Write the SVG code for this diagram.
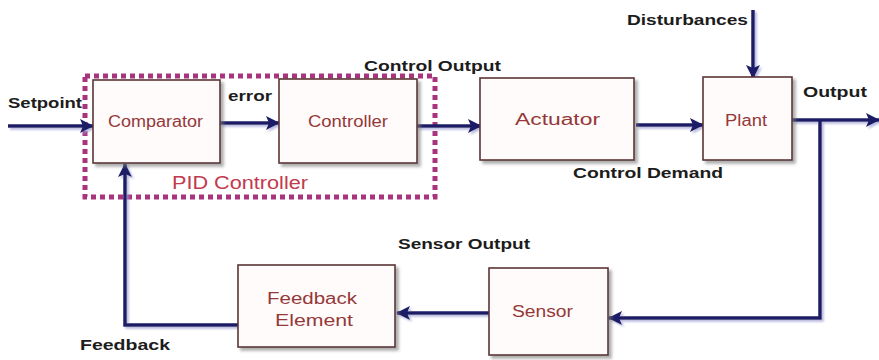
<svg xmlns="http://www.w3.org/2000/svg" width="879" height="360" viewBox="0 0 879 360">
<style>
.box{fill:#fffbfb;stroke:#5a3535;stroke-width:1.6;filter:url(#sh)}
.nt{font-family:"Liberation Sans",Arial,sans-serif;font-size:16px;fill:#953838;text-anchor:start}
.lb{font-family:"Liberation Sans",Arial,sans-serif;font-size:15px;font-weight:bold;fill:#1c1c1c}
.cn{fill:none;stroke:#1a1a66;stroke-width:3.5}
</style>
<defs>
<filter id="sh" x="-10%" y="-10%" width="130%" height="130%">
<feDropShadow dx="3" dy="3" stdDeviation="1.5" flood-color="#777" flood-opacity="0.6"/>
</filter>
<filter id="lsh" x="-5%" y="-5%" width="110%" height="110%">
<feDropShadow dx="2" dy="2" stdDeviation="1.2" flood-color="#9a9ad0" flood-opacity="0.7"/>
</filter>
<marker id="ah" markerUnits="userSpaceOnUse" markerWidth="14" markerHeight="14" refX="13" refY="7" orient="auto">
<path d="M0,0 L14,7 L0,14 L3,7 Z" fill="#1a1a66"/>
</marker>
</defs>
<rect width="879" height="360" fill="#ffffff"/>

<g id="pid-controller">
<rect x="85" y="76" width="350" height="121" fill="none" stroke="#a8347e" stroke-width="5" stroke-dasharray="5 4"/>
<text x="172" y="189" font-family="Liberation Sans,Arial,sans-serif" font-size="18" fill="#c23a4e" textLength="136" lengthAdjust="spacingAndGlyphs">PID Controller</text>
</g>

<g id="connectors" filter="url(#lsh)">
<line class="cn" x1="8" y1="126" x2="93" y2="126" marker-end="url(#ah)"/>
<line class="cn" x1="220" y1="123" x2="279" y2="123" marker-end="url(#ah)"/>
<line class="cn" x1="417" y1="126" x2="481" y2="126" marker-end="url(#ah)"/>
<line class="cn" x1="636" y1="125" x2="703" y2="125" marker-end="url(#ah)"/>
<line class="cn" x1="753" y1="10" x2="753" y2="78" marker-end="url(#ah)"/>
<line class="cn" x1="792" y1="120" x2="879" y2="120" marker-end="url(#ah)"/>
<polyline class="cn" points="820,120 820,318 609,318" marker-end="url(#ah)"/>
<line class="cn" x1="489" y1="313" x2="397" y2="313" marker-end="url(#ah)"/>
<polyline class="cn" points="238,325 125,325 125,164" marker-end="url(#ah)"/>
</g>

<g id="comparator">
<rect class="box" x="93" y="80" width="127" height="83"/>
<text class="nt" x="108" y="127" textLength="95" lengthAdjust="spacingAndGlyphs">Comparator</text>
</g>
<g id="controller">
<rect class="box" x="279" y="79" width="138" height="84"/>
<text class="nt" x="308" y="127" textLength="80" lengthAdjust="spacingAndGlyphs">Controller</text>
</g>
<g id="actuator">
<rect class="box" x="480" y="78" width="154" height="82"/>
<text class="nt" x="515" y="125" textLength="85" lengthAdjust="spacingAndGlyphs">Actuator</text>
</g>
<g id="plant">
<rect class="box" x="703" y="77" width="89" height="83"/>
<text class="nt" x="725" y="126" textLength="42" lengthAdjust="spacingAndGlyphs" fill="#b03c3c">Plant</text>
</g>
<g id="sensor">
<rect class="box" x="489" y="268" width="119" height="87"/>
<text class="nt" x="512" y="317" textLength="61" lengthAdjust="spacingAndGlyphs">Sensor</text>
</g>
<g id="feedback-element">
<rect class="box" x="238" y="265" width="157" height="82"/>
<text class="nt" x="267" y="304" textLength="90" lengthAdjust="spacingAndGlyphs">Feedback</text>
<text class="nt" x="275" y="326" textLength="78" lengthAdjust="spacingAndGlyphs">Element</text>
</g>

<g id="labels">
<text class="lb" x="8" y="108" textLength="74" lengthAdjust="spacingAndGlyphs">Setpoint</text>
<text class="lb" x="228" y="101" textLength="44" lengthAdjust="spacingAndGlyphs">error</text>
<text class="lb" x="364" y="71" textLength="137" lengthAdjust="spacingAndGlyphs">Control Output</text>
<text class="lb" x="627" y="25" textLength="121" lengthAdjust="spacingAndGlyphs">Disturbances</text>
<text class="lb" x="803" y="97" textLength="64" lengthAdjust="spacingAndGlyphs">Output</text>
<text class="lb" x="573" y="178" textLength="150" lengthAdjust="spacingAndGlyphs">Control Demand</text>
<text class="lb" x="398" y="249" textLength="132" lengthAdjust="spacingAndGlyphs">Sensor Output</text>
<text class="lb" x="80" y="350" textLength="90" lengthAdjust="spacingAndGlyphs">Feedback</text>
</g>
</svg>
